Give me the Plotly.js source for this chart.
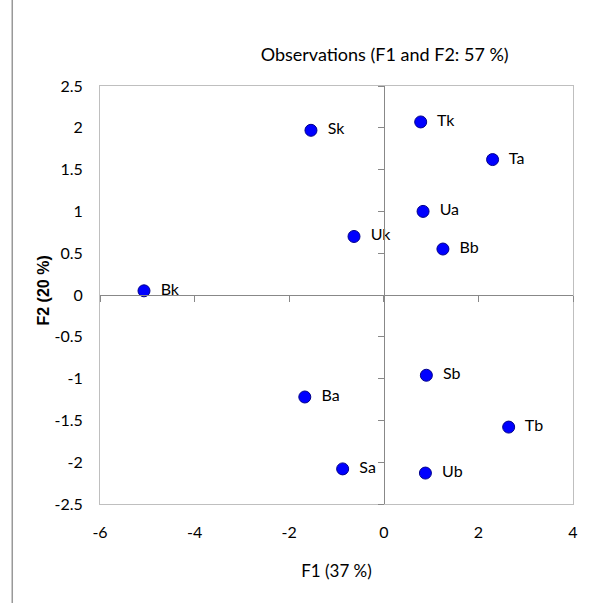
<!DOCTYPE html>
<html><head><meta charset="utf-8">
<script src="https://cdn.plot.ly/plotly-3.0.1.min.js"></script>
<style>html,body{margin:0;padding:0;background:#fff;}#chart{width:590px;height:603px;}</style>
</head><body><div id="chart"></div>
<script>
var labels = ["Sk","Tk","Ta","Ua","Uk","Bb","Bk","Sb","Ba","Tb","Sa","Ub"];
var f1 = [-1.54, 0.78, 2.30, 0.83, -0.63, 1.25, -5.07, 0.90, -1.67, 2.64, -0.87, 0.88];
var f2 = [1.97, 2.07, 1.62, 1.00, 0.70, 0.55, 0.05, -0.96, -1.22, -1.58, -2.08, -2.13];
var xTicks = [-6, -4, -2, 0, 2, 4];
var yTicks = [-2.5, -2, -1.5, -1, -0.5, 0, 0.5, 1, 1.5, 2, 2.5];

var narrow = "Lato, Liberation Sans Narrow, sans-serif";

var trace = {
  x: f1, y: f2, text: labels, type: "scatter", mode: "markers+text",
  textposition: "middle right",
  texttemplate: "\u00a0\u00a0%{text}",
  textfont: {family: narrow, size: 16, color: "#000"},
  marker: {color: "#0000FF", size: 12, line: {color: "#00008B", width: 1}},
  cliponaxis: false, hoverinfo: "none", showlegend: false
};
// invisible trace to activate the crossing axes
var ghost = {x: [0], y: [0], xaxis: "x2", yaxis: "y2", mode: "markers",
  marker: {opacity: 0}, showlegend: false, hoverinfo: "none"};

var layout = {
  width: 590, height: 603,
  margin: {l: 100, r: 17, t: 86, b: 99},
  paper_bgcolor: "#fff", plot_bgcolor: "#fff",
  font: {family: narrow, color: "#000"},
  title: {text: "Observations (F1 and F2: 57 %)", font: {family: narrow, size: 18, color: "#000"},
    xref: "container", x: 0.652, xanchor: "center", yref: "container", y: 0.909, yanchor: "middle"},
  xaxis: {range: [-6, 4], tickvals: xTicks, ticktext: xTicks.map(String), showgrid: false, zeroline: false,
    showline: true, linecolor: "#bfbfbf", linewidth: 1, mirror: true, ticks: "", ticklabelstandoff: 14,
    tickfont: {family: narrow, size: 16}, fixedrange: true,
    title: {text: "F1 (37 %)", font: {family: narrow, size: 17}, standoff: 24}},
  yaxis: {range: [-2.5, 2.5], tickvals: yTicks, ticktext: yTicks.map(String), showgrid: false, zeroline: false,
    showline: true, linecolor: "#bfbfbf", linewidth: 1, mirror: true, ticks: "", ticklabelstandoff: 13,
    tickfont: {family: narrow, size: 16}, fixedrange: true},
  xaxis2: {overlaying: "x", matches: "x", range: [-6, 4], anchor: "free", position: 0.5, side: "bottom",
    tickvals: xTicks, showticklabels: false, ticks: "outside", ticklen: 6, tickcolor: "#888",
    showline: true, linecolor: "#888", linewidth: 1, showgrid: false, zeroline: false},
  yaxis2: {overlaying: "y", matches: "y", range: [-2.5, 2.5], anchor: "free", position: 0.6, side: "left",
    tickvals: yTicks, showticklabels: false, ticks: "outside", ticklen: 6, tickcolor: "#888",
    showline: true, linecolor: "#888", linewidth: 1, showgrid: false, zeroline: false},
  annotations: [{text: "<b>F2 (20 %)</b>", xref: "paper", yref: "paper", x: -0.119, y: 0.51,
    xanchor: "center", yanchor: "middle", textangle: -90, showarrow: false,
    font: {family: "Liberation Sans, Arial, sans-serif", size: 16, color: "#000"}}],
  shapes: [{type: "line", xref: "paper", yref: "paper", x0: -0.1855, x1: -0.1855, y0: -0.3, y1: 1.3,
    line: {color: "#999", width: 1.5}}]
};
Plotly.newPlot("chart", [ghost, trace], layout, {staticPlot: true, displayModeBar: false});
</script></body></html>
